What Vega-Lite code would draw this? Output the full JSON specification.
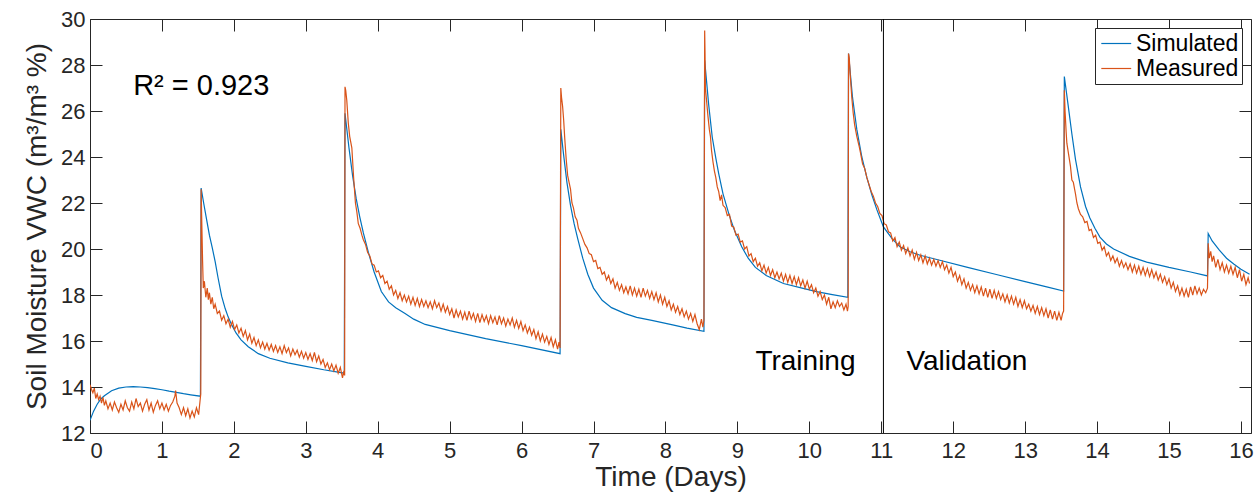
{
  "$schema": "https://vega.github.io/schema/vega-lite/v6.json",
  "width": 1161,
  "height": 414,
  "autosize": "none",
  "padding": {"left": 90, "top": 19, "right": 9, "bottom": 65},
  "background": "white",
  "config": {
    "font": "Liberation Sans",
    "view": {"stroke": null},
    "axis": {"grid": false, "domainColor": "#262626", "tickColor": "#262626", "labelColor": "#262626", "titleColor": "#262626", "labelFontSize": 22, "titleFontSize": 28, "titleFontWeight": "normal", "tickSize": -12, "labelPadding": 6, "domainWidth": 1, "tickWidth": 1}
  },
  "datasets": {
    "sim": [
      {"t":0,"v":12.55},{"t":0.05,"v":12.95},{"t":0.1,"v":13.25},{"t":0.15,"v":13.48},{"t":0.2,"v":13.62},{"t":0.3,"v":13.84},{"t":0.4,"v":13.95},{"t":0.5,"v":14.0},{"t":0.6,"v":14.02},{"t":0.7,"v":14.0},{"t":0.8,"v":13.97},{"t":0.9,"v":13.93},{"t":1.0,"v":13.88},{"t":1.1,"v":13.82},{"t":1.2,"v":13.77},{"t":1.3,"v":13.71},{"t":1.4,"v":13.66},{"t":1.535,"v":13.6},
      {"t":1.545,"v":22.65},{"t":1.58,"v":22.0},{"t":1.62,"v":21.3},{"t":1.66,"v":20.6},{"t":1.7,"v":20.05},{"t":1.74,"v":19.45},{"t":1.78,"v":18.75},{"t":1.83,"v":17.95},{"t":1.88,"v":17.4},{"t":1.92,"v":17.05},{"t":1.97,"v":16.7},{"t":2.03,"v":16.35},{"t":2.1,"v":16.05},{"t":2.2,"v":15.75},{"t":2.34,"v":15.45},{"t":2.5,"v":15.25},{"t":2.75,"v":15.05},{"t":3.0,"v":14.9},{"t":3.25,"v":14.75},{"t":3.535,"v":14.6},
      {"t":3.545,"v":25.9},{"t":3.6,"v":24.4},{"t":3.65,"v":23.2},{"t":3.7,"v":22.2},{"t":3.75,"v":21.4},{"t":3.8,"v":20.7},{"t":3.87,"v":19.85},{"t":3.95,"v":19.0},{"t":4.05,"v":18.15},{"t":4.15,"v":17.7},{"t":4.25,"v":17.45},{"t":4.38,"v":17.2},{"t":4.5,"v":16.95},{"t":4.66,"v":16.72},{"t":5.0,"v":16.45},{"t":5.5,"v":16.1},{"t":6.0,"v":15.8},{"t":6.535,"v":15.45},
      {"t":6.545,"v":25.2},{"t":6.58,"v":24.2},{"t":6.63,"v":22.9},{"t":6.68,"v":21.9},{"t":6.73,"v":21.1},{"t":6.78,"v":20.45},{"t":6.85,"v":19.6},{"t":6.92,"v":18.9},{"t":7.0,"v":18.3},{"t":7.12,"v":17.77},{"t":7.25,"v":17.45},{"t":7.44,"v":17.19},{"t":7.6,"v":17.03},{"t":7.81,"v":16.9},{"t":8.1,"v":16.7},{"t":8.3,"v":16.56},{"t":8.535,"v":16.42},
      {"t":8.545,"v":28.2},{"t":8.6,"v":26.3},{"t":8.65,"v":24.87},{"t":8.7,"v":23.95},{"t":8.74,"v":23.28},{"t":8.8,"v":22.4},{"t":8.88,"v":21.54},{"t":8.96,"v":20.8},{"t":9.06,"v":20.1},{"t":9.15,"v":19.6},{"t":9.25,"v":19.2},{"t":9.4,"v":18.85},{"t":9.64,"v":18.5},{"t":9.9,"v":18.3},{"t":10.1,"v":18.15},{"t":10.3,"v":18.03},{"t":10.535,"v":17.9},
      {"t":10.545,"v":28.5},{"t":10.6,"v":26.6},{"t":10.66,"v":25.2},{"t":10.73,"v":24.0},{"t":10.8,"v":23.1},{"t":10.87,"v":22.35},{"t":10.94,"v":21.7},{"t":11.03,"v":20.96},{"t":11.15,"v":20.45},{"t":11.26,"v":20.1},{"t":11.4,"v":19.88},{"t":11.54,"v":19.73},{"t":11.8,"v":19.52},{"t":12.2,"v":19.2},{"t":12.6,"v":18.89},{"t":13.0,"v":18.58},{"t":13.3,"v":18.35},{"t":13.535,"v":18.17},
      {"t":13.545,"v":27.5},{"t":13.6,"v":26.2},{"t":13.65,"v":25.0},{"t":13.7,"v":23.9},{"t":13.77,"v":22.7},{"t":13.84,"v":21.85},{"t":13.9,"v":21.35},{"t":13.97,"v":20.9},{"t":14.04,"v":20.52},{"t":14.13,"v":20.22},{"t":14.23,"v":20.0},{"t":14.45,"v":19.68},{"t":14.69,"v":19.43},{"t":15.0,"v":19.2},{"t":15.3,"v":19.0},{"t":15.535,"v":18.83},
      {"t":15.545,"v":20.67},{"t":15.6,"v":20.35},{"t":15.7,"v":19.95},{"t":15.8,"v":19.6},{"t":15.9,"v":19.35},{"t":16.0,"v":19.12},{"t":16.12,"v":18.9}
    ],
    "meas": [
      {"t":0.00,"v":14.1},{"t":0.02,"v":13.9},{"t":0.04,"v":13.75},{"t":0.06,"v":13.95},{"t":0.08,"v":13.5},{"t":0.10,"v":13.7},{"t":0.12,"v":13.45},{"t":0.14,"v":13.6},{"t":0.16,"v":13.3},{"t":0.18,"v":13.55},{"t":0.20,"v":13.2},{"t":0.22,"v":13.4},{"t":0.25,"v":13.05},{"t":0.28,"v":13.3},{"t":0.31,"v":13.0},{"t":0.34,"v":13.35},{"t":0.37,"v":13.1},{"t":0.40,"v":12.9},{"t":0.43,"v":13.25},{"t":0.46,"v":13.0},{"t":0.49,"v":13.4},{"t":0.52,"v":13.1},{"t":0.55,"v":12.95},{"t":0.58,"v":13.35},{"t":0.61,"v":13.05},{"t":0.64,"v":13.5},{"t":0.67,"v":13.15},{"t":0.70,"v":13.3},{"t":0.73,"v":12.95},{"t":0.76,"v":13.25},{"t":0.79,"v":13.45},{"t":0.82,"v":13.0},{"t":0.85,"v":13.3},{"t":0.88,"v":12.9},{"t":0.91,"v":13.2},{"t":0.94,"v":13.4},{"t":0.97,"v":13.05},{"t":1.00,"v":13.3},{"t":1.03,"v":13.0},{"t":1.06,"v":13.25},{"t":1.09,"v":12.95},{"t":1.12,"v":13.2},{"t":1.15,"v":13.35},{"t":1.18,"v":13.6},{"t":1.19,"v":13.85},{"t":1.21,"v":13.3},{"t":1.24,"v":13.1},{"t":1.27,"v":12.8},{"t":1.30,"v":13.1},{"t":1.33,"v":12.75},{"t":1.36,"v":13.05},{"t":1.39,"v":12.65},{"t":1.42,"v":12.95},{"t":1.45,"v":12.7},{"t":1.48,"v":13.1},{"t":1.51,"v":12.8},{"t":1.53,"v":13.4},{"t":1.54,"v":13.7},
      {"t":1.545,"v":22.6},{"t":1.555,"v":21.0},{"t":1.565,"v":19.5},{"t":1.575,"v":18.3},{"t":1.59,"v":18.6},{"t":1.61,"v":17.9},{"t":1.63,"v":18.3},{"t":1.645,"v":17.8},{"t":1.66,"v":18.1},{"t":1.68,"v":17.6},{"t":1.70,"v":17.9},{"t":1.72,"v":17.4},{"t":1.74,"v":17.6},{"t":1.77,"v":17.2},{"t":1.80,"v":17.3},{"t":1.83,"v":16.9},{"t":1.86,"v":17.1},{"t":1.89,"v":16.75},{"t":1.92,"v":16.95},{"t":1.95,"v":16.6},{"t":1.98,"v":16.85},{"t":2.01,"v":16.5},{"t":2.04,"v":16.7},{"t":2.07,"v":16.35},{"t":2.10,"v":16.55},{"t":2.13,"v":16.2},{"t":2.16,"v":16.45},{"t":2.19,"v":16.05},{"t":2.22,"v":16.3},{"t":2.25,"v":15.9},{"t":2.28,"v":16.15},{"t":2.31,"v":15.8},{"t":2.34,"v":16.05},{"t":2.37,"v":15.7},{"t":2.40,"v":15.95},{"t":2.43,"v":15.65},{"t":2.46,"v":15.9},{"t":2.49,"v":15.6},{"t":2.52,"v":15.85},{"t":2.55,"v":15.55},{"t":2.58,"v":15.8},{"t":2.61,"v":15.5},{"t":2.64,"v":15.75},{"t":2.67,"v":15.45},{"t":2.70,"v":15.8},{"t":2.73,"v":15.5},{"t":2.76,"v":15.7},{"t":2.79,"v":15.35},{"t":2.82,"v":15.65},{"t":2.85,"v":15.4},{"t":2.88,"v":15.6},{"t":2.91,"v":15.3},{"t":2.94,"v":15.55},{"t":2.97,"v":15.25},{"t":3.00,"v":15.5},{"t":3.03,"v":15.2},{"t":3.06,"v":15.45},{"t":3.09,"v":15.15},{"t":3.12,"v":15.5},{"t":3.15,"v":15.1},{"t":3.18,"v":15.35},{"t":3.21,"v":15.0},{"t":3.24,"v":15.2},{"t":3.27,"v":14.85},{"t":3.30,"v":15.05},{"t":3.33,"v":14.75},{"t":3.36,"v":15.0},{"t":3.39,"v":14.7},{"t":3.42,"v":14.95},{"t":3.45,"v":14.6},{"t":3.48,"v":14.85},{"t":3.51,"v":14.4},{"t":3.53,"v":14.7},{"t":3.54,"v":14.5},
      {"t":3.545,"v":27.05},{"t":3.555,"v":26.9},{"t":3.57,"v":26.45},{"t":3.59,"v":25.5},{"t":3.61,"v":24.9},{"t":3.64,"v":24.4},{"t":3.665,"v":23.1},{"t":3.69,"v":22.0},{"t":3.71,"v":21.6},{"t":3.73,"v":21.1},{"t":3.755,"v":20.9},{"t":3.78,"v":20.6},{"t":3.80,"v":20.4},{"t":3.83,"v":20.2},{"t":3.86,"v":19.85},{"t":3.89,"v":19.7},{"t":3.92,"v":19.35},{"t":3.95,"v":19.3},{"t":3.98,"v":19.0},{"t":4.01,"v":19.05},{"t":4.04,"v":18.75},{"t":4.07,"v":18.85},{"t":4.10,"v":18.5},{"t":4.13,"v":18.6},{"t":4.16,"v":18.25},{"t":4.19,"v":18.4},{"t":4.22,"v":18.0},{"t":4.25,"v":18.2},{"t":4.28,"v":17.85},{"t":4.31,"v":18.1},{"t":4.34,"v":17.75},{"t":4.37,"v":18.0},{"t":4.40,"v":17.7},{"t":4.43,"v":17.95},{"t":4.46,"v":17.6},{"t":4.49,"v":17.9},{"t":4.52,"v":17.55},{"t":4.55,"v":17.85},{"t":4.58,"v":17.5},{"t":4.61,"v":17.8},{"t":4.64,"v":17.5},{"t":4.67,"v":17.75},{"t":4.70,"v":17.45},{"t":4.73,"v":17.7},{"t":4.76,"v":17.4},{"t":4.79,"v":17.75},{"t":4.82,"v":17.45},{"t":4.85,"v":17.65},{"t":4.88,"v":17.3},{"t":4.91,"v":17.6},{"t":4.94,"v":17.25},{"t":4.97,"v":17.5},{"t":5.00,"v":17.15},{"t":5.03,"v":17.4},{"t":5.06,"v":17.0},{"t":5.09,"v":17.35},{"t":5.12,"v":17.05},{"t":5.15,"v":17.3},{"t":5.18,"v":16.95},{"t":5.21,"v":17.25},{"t":5.24,"v":16.9},{"t":5.27,"v":17.3},{"t":5.30,"v":16.95},{"t":5.33,"v":17.2},{"t":5.36,"v":16.85},{"t":5.39,"v":17.2},{"t":5.42,"v":16.8},{"t":5.45,"v":17.15},{"t":5.48,"v":16.85},{"t":5.51,"v":17.1},{"t":5.54,"v":16.75},{"t":5.57,"v":17.1},{"t":5.60,"v":16.8},{"t":5.63,"v":17.05},{"t":5.66,"v":16.7},{"t":5.69,"v":17.1},{"t":5.72,"v":16.75},{"t":5.75,"v":17.0},{"t":5.78,"v":16.65},{"t":5.81,"v":16.95},{"t":5.84,"v":16.7},{"t":5.87,"v":17.0},{"t":5.90,"v":16.6},{"t":5.93,"v":16.9},{"t":5.96,"v":16.55},{"t":5.99,"v":16.85},{"t":6.02,"v":16.45},{"t":6.05,"v":16.7},{"t":6.08,"v":16.35},{"t":6.11,"v":16.6},{"t":6.14,"v":16.25},{"t":6.17,"v":16.5},{"t":6.20,"v":16.1},{"t":6.23,"v":16.4},{"t":6.26,"v":16.0},{"t":6.29,"v":16.3},{"t":6.32,"v":15.95},{"t":6.35,"v":16.2},{"t":6.38,"v":15.85},{"t":6.41,"v":16.15},{"t":6.44,"v":15.75},{"t":6.47,"v":16.05},{"t":6.50,"v":15.65},{"t":6.52,"v":15.95},{"t":6.535,"v":15.7},
      {"t":6.545,"v":27.0},{"t":6.555,"v":26.6},{"t":6.57,"v":26.2},{"t":6.585,"v":25.6},{"t":6.60,"v":24.8},{"t":6.62,"v":23.9},{"t":6.64,"v":23.2},{"t":6.66,"v":22.9},{"t":6.68,"v":22.6},{"t":6.70,"v":22.0},{"t":6.72,"v":21.8},{"t":6.745,"v":21.4},{"t":6.77,"v":21.25},{"t":6.79,"v":20.9},{"t":6.82,"v":20.7},{"t":6.85,"v":20.45},{"t":6.88,"v":20.2},{"t":6.91,"v":20.05},{"t":6.94,"v":19.8},{"t":6.97,"v":19.75},{"t":7.00,"v":19.45},{"t":7.03,"v":19.5},{"t":7.06,"v":19.15},{"t":7.09,"v":19.2},{"t":7.12,"v":18.9},{"t":7.15,"v":19.0},{"t":7.18,"v":18.65},{"t":7.21,"v":18.85},{"t":7.24,"v":18.5},{"t":7.27,"v":18.7},{"t":7.30,"v":18.3},{"t":7.33,"v":18.55},{"t":7.36,"v":18.2},{"t":7.39,"v":18.45},{"t":7.42,"v":18.1},{"t":7.45,"v":18.35},{"t":7.48,"v":18.05},{"t":7.51,"v":18.4},{"t":7.54,"v":18.0},{"t":7.57,"v":18.3},{"t":7.60,"v":17.95},{"t":7.63,"v":18.25},{"t":7.66,"v":17.9},{"t":7.69,"v":18.3},{"t":7.72,"v":17.95},{"t":7.75,"v":18.2},{"t":7.78,"v":17.85},{"t":7.81,"v":18.15},{"t":7.84,"v":17.8},{"t":7.87,"v":18.1},{"t":7.90,"v":17.7},{"t":7.93,"v":18.0},{"t":7.96,"v":17.6},{"t":7.99,"v":17.9},{"t":8.02,"v":17.5},{"t":8.05,"v":17.75},{"t":8.08,"v":17.35},{"t":8.11,"v":17.6},{"t":8.14,"v":17.25},{"t":8.17,"v":17.5},{"t":8.20,"v":17.15},{"t":8.23,"v":17.4},{"t":8.26,"v":17.05},{"t":8.29,"v":17.3},{"t":8.32,"v":16.95},{"t":8.35,"v":17.2},{"t":8.38,"v":16.85},{"t":8.41,"v":17.15},{"t":8.44,"v":16.75},{"t":8.47,"v":16.5},{"t":8.50,"v":16.95},{"t":8.52,"v":16.6},{"t":8.535,"v":16.9},
      {"t":8.545,"v":29.5},{"t":8.55,"v":28.5},{"t":8.555,"v":27.0},{"t":8.57,"v":26.5},{"t":8.59,"v":25.8},{"t":8.61,"v":25.2},{"t":8.625,"v":24.9},{"t":8.64,"v":24.3},{"t":8.66,"v":23.8},{"t":8.68,"v":23.4},{"t":8.70,"v":23.1},{"t":8.72,"v":22.7},{"t":8.74,"v":22.5},{"t":8.76,"v":22.1},{"t":8.78,"v":22.35},{"t":8.80,"v":21.9},{"t":8.83,"v":21.8},{"t":8.86,"v":21.45},{"t":8.89,"v":21.5},{"t":8.92,"v":21.0},{"t":8.95,"v":20.95},{"t":8.98,"v":20.6},{"t":9.01,"v":20.65},{"t":9.04,"v":20.3},{"t":9.07,"v":20.35},{"t":9.10,"v":20.0},{"t":9.13,"v":20.1},{"t":9.16,"v":19.7},{"t":9.19,"v":19.8},{"t":9.22,"v":19.45},{"t":9.25,"v":19.6},{"t":9.28,"v":19.25},{"t":9.31,"v":19.4},{"t":9.34,"v":19.05},{"t":9.37,"v":19.3},{"t":9.40,"v":18.95},{"t":9.43,"v":19.2},{"t":9.46,"v":18.85},{"t":9.49,"v":19.1},{"t":9.52,"v":18.75},{"t":9.55,"v":19.0},{"t":9.58,"v":18.7},{"t":9.61,"v":18.95},{"t":9.64,"v":18.6},{"t":9.67,"v":18.9},{"t":9.70,"v":18.55},{"t":9.73,"v":18.85},{"t":9.76,"v":18.5},{"t":9.79,"v":18.8},{"t":9.82,"v":18.45},{"t":9.85,"v":18.75},{"t":9.88,"v":18.4},{"t":9.91,"v":18.65},{"t":9.94,"v":18.3},{"t":9.97,"v":18.6},{"t":10.00,"v":18.25},{"t":10.03,"v":18.45},{"t":10.06,"v":18.1},{"t":10.09,"v":18.3},{"t":10.12,"v":17.95},{"t":10.15,"v":18.15},{"t":10.18,"v":17.8},{"t":10.21,"v":18.0},{"t":10.24,"v":17.6},{"t":10.27,"v":17.9},{"t":10.30,"v":17.4},{"t":10.33,"v":17.7},{"t":10.36,"v":17.45},{"t":10.39,"v":17.75},{"t":10.42,"v":17.5},{"t":10.45,"v":17.65},{"t":10.48,"v":17.35},{"t":10.51,"v":17.6},{"t":10.53,"v":17.3},{"t":10.54,"v":17.5},
      {"t":10.545,"v":28.5},{"t":10.555,"v":28.3},{"t":10.57,"v":27.5},{"t":10.59,"v":26.6},{"t":10.61,"v":25.9},{"t":10.63,"v":25.4},{"t":10.66,"v":24.9},{"t":10.69,"v":24.5},{"t":10.71,"v":24.2},{"t":10.74,"v":23.7},{"t":10.77,"v":23.5},{"t":10.80,"v":23.1},{"t":10.83,"v":22.8},{"t":10.86,"v":22.5},{"t":10.89,"v":22.3},{"t":10.92,"v":22.0},{"t":10.95,"v":21.85},{"t":10.98,"v":21.55},{"t":11.01,"v":21.45},{"t":11.04,"v":21.1},{"t":11.07,"v":21.05},{"t":11.10,"v":20.75},{"t":11.13,"v":20.7},{"t":11.16,"v":20.35},{"t":11.19,"v":20.5},{"t":11.22,"v":20.1},{"t":11.25,"v":20.3},{"t":11.28,"v":19.95},{"t":11.31,"v":20.15},{"t":11.34,"v":19.8},{"t":11.37,"v":20.05},{"t":11.40,"v":19.7},{"t":11.43,"v":19.95},{"t":11.46,"v":19.55},{"t":11.49,"v":19.85},{"t":11.52,"v":19.5},{"t":11.55,"v":19.75},{"t":11.58,"v":19.4},{"t":11.61,"v":19.7},{"t":11.64,"v":19.35},{"t":11.67,"v":19.6},{"t":11.70,"v":19.3},{"t":11.73,"v":19.55},{"t":11.76,"v":19.25},{"t":11.79,"v":19.5},{"t":11.82,"v":19.2},{"t":11.85,"v":19.45},{"t":11.88,"v":19.1},{"t":11.91,"v":19.3},{"t":11.94,"v":18.95},{"t":11.97,"v":19.2},{"t":12.00,"v":18.8},{"t":12.03,"v":19.0},{"t":12.06,"v":18.6},{"t":12.09,"v":18.85},{"t":12.12,"v":18.45},{"t":12.15,"v":18.7},{"t":12.18,"v":18.3},{"t":12.21,"v":18.55},{"t":12.24,"v":18.2},{"t":12.27,"v":18.45},{"t":12.30,"v":18.1},{"t":12.33,"v":18.4},{"t":12.36,"v":18.05},{"t":12.39,"v":18.35},{"t":12.42,"v":17.95},{"t":12.45,"v":18.3},{"t":12.48,"v":17.9},{"t":12.51,"v":18.25},{"t":12.54,"v":17.85},{"t":12.57,"v":18.2},{"t":12.60,"v":17.85},{"t":12.63,"v":18.15},{"t":12.66,"v":17.8},{"t":12.69,"v":18.05},{"t":12.72,"v":17.7},{"t":12.75,"v":18.0},{"t":12.78,"v":17.65},{"t":12.81,"v":17.95},{"t":12.84,"v":17.6},{"t":12.87,"v":17.9},{"t":12.90,"v":17.5},{"t":12.93,"v":17.8},{"t":12.96,"v":17.45},{"t":12.99,"v":17.75},{"t":13.02,"v":17.4},{"t":13.05,"v":17.6},{"t":13.08,"v":17.3},{"t":13.11,"v":17.55},{"t":13.14,"v":17.2},{"t":13.17,"v":17.5},{"t":13.20,"v":17.15},{"t":13.23,"v":17.45},{"t":13.26,"v":17.1},{"t":13.29,"v":17.4},{"t":13.32,"v":17.0},{"t":13.35,"v":17.35},{"t":13.38,"v":16.95},{"t":13.41,"v":17.3},{"t":13.44,"v":16.9},{"t":13.47,"v":17.25},{"t":13.50,"v":16.9},{"t":13.52,"v":17.2},{"t":13.535,"v":17.3},
      {"t":13.545,"v":26.9},{"t":13.555,"v":26.0},{"t":13.57,"v":25.1},{"t":13.58,"v":24.6},{"t":13.60,"v":24.2},{"t":13.63,"v":23.6},{"t":13.65,"v":23.0},{"t":13.67,"v":22.9},{"t":13.70,"v":22.4},{"t":13.72,"v":22.0},{"t":13.74,"v":21.75},{"t":13.77,"v":21.5},{"t":13.80,"v":21.4},{"t":13.83,"v":21.15},{"t":13.86,"v":21.2},{"t":13.89,"v":20.8},{"t":13.92,"v":20.85},{"t":13.95,"v":20.5},{"t":13.98,"v":20.6},{"t":14.01,"v":20.25},{"t":14.04,"v":20.3},{"t":14.07,"v":19.95},{"t":14.10,"v":20.1},{"t":14.13,"v":19.7},{"t":14.16,"v":19.85},{"t":14.19,"v":19.5},{"t":14.22,"v":19.7},{"t":14.25,"v":19.4},{"t":14.28,"v":19.6},{"t":14.31,"v":19.25},{"t":14.34,"v":19.5},{"t":14.37,"v":19.2},{"t":14.40,"v":19.4},{"t":14.43,"v":19.1},{"t":14.46,"v":19.35},{"t":14.49,"v":19.0},{"t":14.52,"v":19.3},{"t":14.55,"v":18.95},{"t":14.58,"v":19.25},{"t":14.61,"v":18.9},{"t":14.64,"v":19.2},{"t":14.67,"v":18.85},{"t":14.70,"v":19.15},{"t":14.73,"v":18.8},{"t":14.76,"v":19.1},{"t":14.79,"v":18.75},{"t":14.82,"v":19.0},{"t":14.85,"v":18.65},{"t":14.88,"v":18.9},{"t":14.91,"v":18.55},{"t":14.94,"v":18.8},{"t":14.97,"v":18.45},{"t":15.00,"v":18.7},{"t":15.03,"v":18.3},{"t":15.06,"v":18.55},{"t":15.09,"v":18.15},{"t":15.12,"v":18.4},{"t":15.15,"v":18.0},{"t":15.18,"v":18.3},{"t":15.21,"v":17.95},{"t":15.24,"v":18.25},{"t":15.27,"v":17.9},{"t":15.30,"v":18.35},{"t":15.33,"v":18.0},{"t":15.36,"v":18.4},{"t":15.39,"v":18.05},{"t":15.42,"v":18.3},{"t":15.45,"v":18.0},{"t":15.48,"v":18.25},{"t":15.51,"v":18.1},{"t":15.535,"v":18.3},
      {"t":15.545,"v":20.25},{"t":15.56,"v":19.6},{"t":15.58,"v":19.9},{"t":15.60,"v":19.45},{"t":15.62,"v":19.7},{"t":15.65,"v":19.2},{"t":15.68,"v":19.55},{"t":15.71,"v":19.1},{"t":15.74,"v":19.4},{"t":15.77,"v":19.0},{"t":15.80,"v":19.3},{"t":15.83,"v":18.95},{"t":15.86,"v":19.25},{"t":15.89,"v":18.9},{"t":15.92,"v":19.2},{"t":15.95,"v":18.75},{"t":15.98,"v":19.1},{"t":16.01,"v":18.6},{"t":16.04,"v":18.9},{"t":16.07,"v":18.45},{"t":16.10,"v":18.75},{"t":16.12,"v":18.5}
    ],
    "notes": [
      {"tx": 9.25, "ty": 14.73, "label": "Training"},
      {"tx": 11.35, "ty": 14.73, "label": "Validation"}
    ],
    "r2": [
      {"tx": 0.6, "ty": 26.68, "label": "R² = 0.923"}
    ],
    "split": [
      {"tx": 11.03}
    ]
  },
  "resolve": {"axis": {"x": "independent", "y": "independent"}},
  "layer": [
    {
      "data": {"name": "sim"},
      "mark": {"type": "line", "strokeWidth": 1.2, "clip": true},
      "encoding": {
        "x": {"field": "t", "type": "quantitative", "scale": {"domain": [0, 16.14], "nice": false, "zero": false},
              "axis": {"orient": "bottom", "values": [0,1,2,3,4,5,6,7,8,9,10,11,12,13,14,15,16], "format": "d", "title": "Time (Days)", "labelPadding": 19, "titlePadding": 2}},
        "y": {"field": "v", "type": "quantitative", "scale": {"domain": [12, 30], "nice": false, "zero": false},
              "axis": {"orient": "left", "values": [12,14,16,18,20,22,24,26,28,30], "format": "d", "title": "Soil Moisture VWC (m³/m³ %)", "labelPadding": 17, "titlePadding": 9}},
        "color": {"datum": "Simulated", "type": "nominal",
                  "scale": {"domain": ["Simulated", "Measured"], "range": ["#0072BD", "#D95319"]},
                  "legend": {"orient": "top-right", "offset": 9, "title": null, "strokeColor": "#262626", "fillColor": "white", "padding": 3, "symbolType": "M-0.8,0H1.8", "symbolSize": 529, "symbolStrokeWidth": 1.2, "labelFontSize": 23, "labelColor": "#000000", "labelOffset": 13, "rowPadding": 0}}
      }
    },
    {
      "data": {"name": "meas"},
      "mark": {"type": "line", "strokeWidth": 1.2, "clip": true},
      "encoding": {
        "x": {"field": "t", "type": "quantitative", "axis": {"orient": "top", "values": [0,1,2,3,4,5,6,7,8,9,10,11,12,13,14,15,16], "labels": false, "title": null}},
        "y": {"field": "v", "type": "quantitative", "axis": {"orient": "right", "values": [12,14,16,18,20,22,24,26,28,30], "labels": false, "title": null}},
        "color": {"datum": "Measured", "type": "nominal"}
      }
    },
    {
      "data": {"name": "split"},
      "mark": {"type": "rule", "color": "#000000", "strokeWidth": 1},
      "encoding": {"x": {"field": "tx", "type": "quantitative", "axis": null}}
    },
    {
      "data": {"name": "notes"},
      "mark": {"type": "text", "align": "left", "baseline": "alphabetic", "fontSize": 28, "color": "#000000"},
      "encoding": {
        "x": {"field": "tx", "type": "quantitative", "axis": null},
        "y": {"field": "ty", "type": "quantitative", "axis": null},
        "text": {"field": "label"}
      }
    },
    {
      "data": {"name": "r2"},
      "mark": {"type": "text", "align": "left", "baseline": "alphabetic", "fontSize": 29, "color": "#000000"},
      "encoding": {
        "x": {"field": "tx", "type": "quantitative", "axis": null},
        "y": {"field": "ty", "type": "quantitative", "axis": null},
        "text": {"field": "label"}
      }
    }
  ]
}
